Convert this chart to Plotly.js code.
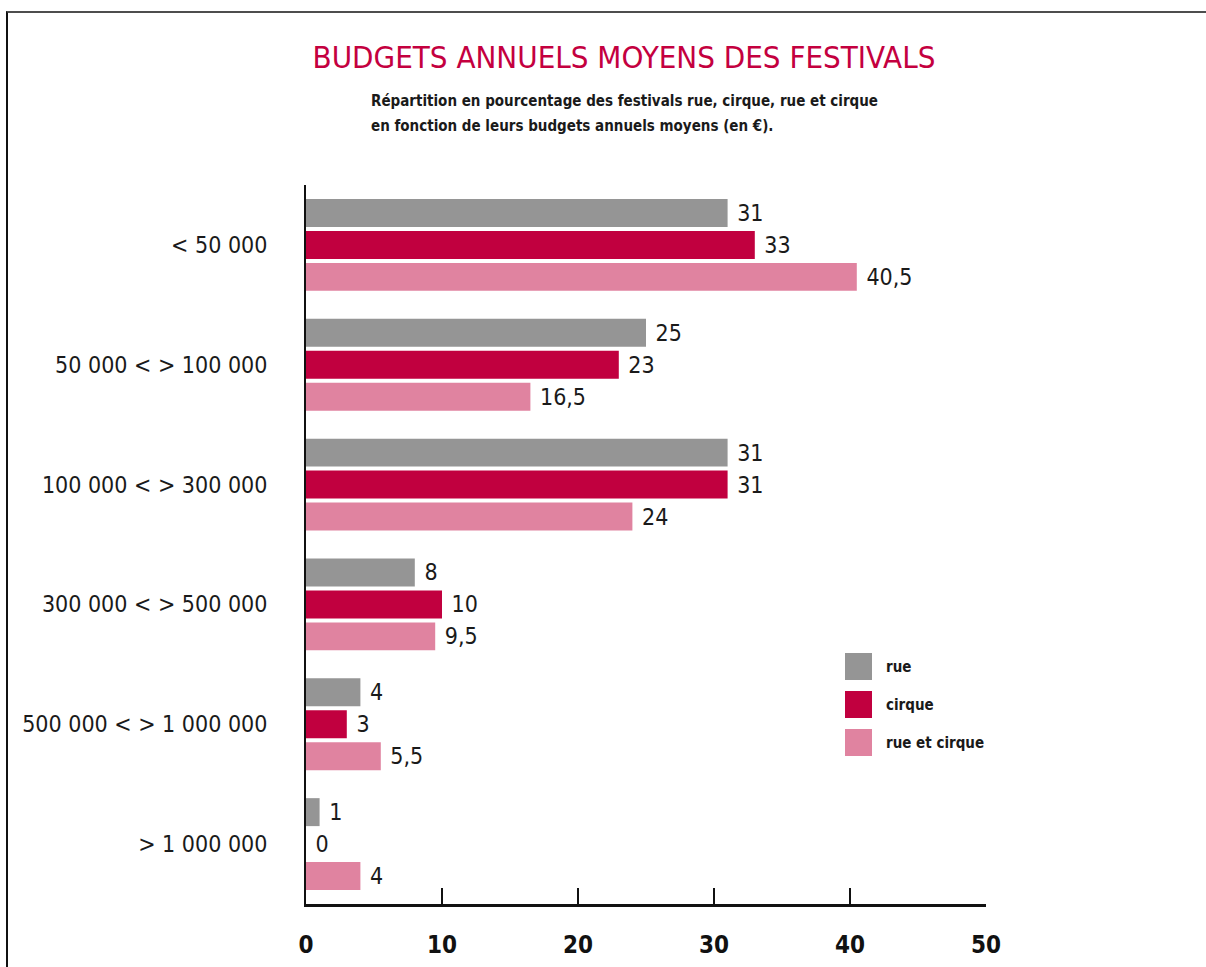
<!DOCTYPE html>
<html>
<head>
<meta charset="utf-8">
<script src="https://cdn.plot.ly/plotly-3.0.1.min.js"></script>
<style>
  html, body { margin: 0; padding: 0; background: #fff; }
  #wrap { position: relative; width: 1206px; height: 967px; }
  #chart { position: absolute; left: 0; top: 0; width: 1206px; height: 967px; }
  #frame { position: absolute; left: 6px; top: 11px; right: 0; bottom: 0;
           border-top: 2px solid #4d4d4d; border-left: 2px solid #111; pointer-events: none; }
</style>
</head>
<body>
<div id="wrap">
  <div id="chart"></div>
  <div id="frame"></div>
</div>
<script>
const categories = ['&lt; 50 000', '50 000 &lt; &gt; 100 000', '100 000 &lt; &gt; 300 000',
                    '300 000 &lt; &gt; 500 000', '500 000 &lt; &gt; 1 000 000', '&gt; 1 000 000'];
const seriesNames = ['rue', 'cirque', 'rue et cirque'];
const rue = [31, 25, 31, 8, 4, 1];
const cirque = [33, 23, 31, 10, 3, 0];
const rueEtCirque = [40.5, 16.5, 24, 9.5, 5.5, 4];
const xTicks = [0, 10, 20, 30, 40, 50];
const titleText = 'BUDGETS ANNUELS MOYENS DES FESTIVALS';
const subtitleLines = ['Répartition en pourcentage des festivals rue, cirque, rue et cirque',
                       'en fonction de leurs budgets annuels moyens (en <b>€</b>).'];

const colors = ['#959595', '#c1003f', '#e083a0'];
const FONT = '"DejaVu Sans Condensed", "Liberation Sans Narrow", sans-serif';
const fmt = v => String(v).replace('.', ',');

const seriesValues = [rue, cirque, rueEtCirque];
const traces = seriesValues.map((vals, i) => ({
  type: 'bar',
  orientation: 'h',
  name: seriesNames[i],
  x: vals,
  y: categories,
  text: vals.map(fmt),
  texttemplate: '\u00a0%{text}',
  textposition: 'outside',
  constraintext: 'none',
  cliponaxis: false,
  textfont: { family: FONT, size: 23, color: '#1a1a1a' },
  marker: { color: colors[i] },
  showlegend: false,
  hoverinfo: 'skip'
}));

// Manual legend (large square keys)
const PL = 306, PR = 986, PT = 185, PB = 904;
const px = x => (x - PL) / (PR - PL);
const py = y => (PB - y) / (PB - PT);
const shapes = [];
const annotations = [];
seriesNames.forEach((n, i) => {
  const top = 653 + i * 38;
  shapes.push({ type: 'rect', xref: 'paper', yref: 'paper',
    x0: px(845), x1: px(872), y0: py(top + 27), y1: py(top),
    fillcolor: colors[i], line: { width: 0 } });
  annotations.push({ xref: 'paper', yref: 'paper', x: px(884), y: py(top + 13.5),
    xanchor: 'left', yanchor: 'middle', showarrow: false, text: n,
    font: { family: FONT, size: 15, color: '#1a1a1a', weight: 'bold' } });
});
subtitleLines.forEach((t, i) => {
  annotations.push({ xref: 'paper', yref: 'paper', x: px(369), y: py(101 + i * 25),
    xanchor: 'left', yanchor: 'middle', showarrow: false, text: t, align: 'left',
    font: { family: FONT, size: 15, color: '#1a1a1a', weight: 'bold' } });
});

const layout = {
  width: 1206, height: 967,
  margin: { l: PL, r: 1206 - PR, t: PT, b: 967 - PB, pad: 0 },
  paper_bgcolor: 'rgba(0,0,0,0)', plot_bgcolor: 'rgba(0,0,0,0)',
  barmode: 'group', bargap: 0.2, bargroupgap: 0.125,
  showlegend: false,
  title: { text: titleText, x: 624 / 1206, xanchor: 'center', xref: 'container',
           y: 1 - 57 / 967, yanchor: 'middle', yref: 'container',
           font: { family: FONT, size: 31, color: '#c4003f' } },
  xaxis: { range: [0, 50], tickvals: xTicks, ticktext: xTicks.map(String),
           ticks: 'inside', ticklen: 16, tickwidth: 2, tickcolor: '#111',
           showline: true, linewidth: 3, linecolor: '#111', showgrid: false, zeroline: false,
           ticklabelstandoff: 17,
           tickfont: { family: FONT, size: 24, color: '#111', weight: 'bold' }, fixedrange: true },
  yaxis: { type: 'category', autorange: 'reversed', showline: true, linewidth: 2, linecolor: '#111',
           ticks: '', showgrid: false, zeroline: false, ticklabelstandoff: 32,
           tickfont: { family: FONT, size: 23, color: '#1a1a1a' }, fixedrange: true },
  shapes: shapes,
  annotations: annotations
};

Plotly.newPlot('chart', traces, layout, { displayModeBar: false, staticPlot: true });
</script>
</body>
</html>
